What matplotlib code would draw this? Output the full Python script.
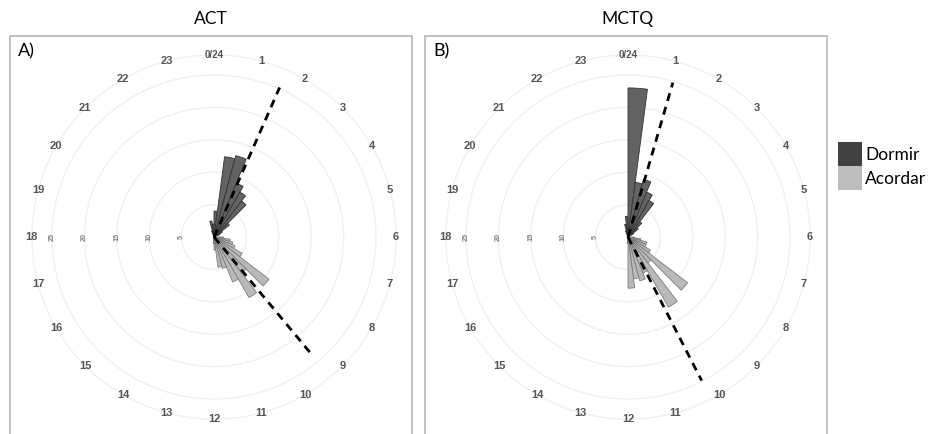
import numpy as np
import matplotlib
matplotlib.use("Agg")
import matplotlib.pyplot as plt
from matplotlib.patches import Rectangle

# ---------------- data (30-min bins, start hour -> frequency) ----------------
act_dormir_hours = [22.5, 23.0, 23.5, 0.0, 0.5, 1.0, 1.5, 2.0, 2.5, 3.0, 3.5, 4.0]
act_dormir_freq = [1.0, 2.5, 2.0, 4.0, 12.5, 13.0, 9.0, 8.0, 7.0, 3.0, 1.5, 1.0]
act_acordar_hours = [6.0, 6.5, 7.0, 7.5, 8.0, 8.5, 9.0, 9.5, 10.0, 10.5, 11.0, 11.5, 12.0]
act_acordar_freq = [1.5, 2.5, 3.0, 3.5, 5.0, 10.7, 7.0, 10.8, 7.5, 5.0, 4.7, 2.0, 1.0]

mctq_dormir_hours = [22.5, 23.0, 23.5, 0.0, 0.5, 1.0, 1.5, 2.0, 2.5, 3.0, 3.5]
mctq_dormir_freq = [1.0, 2.0, 3.2, 23.0, 8.5, 9.2, 7.5, 6.5, 3.0, 2.0, 1.0]
mctq_acordar_hours = [6.0, 6.5, 7.0, 7.5, 8.0, 8.5, 9.0, 9.5, 10.0, 10.5, 11.0, 11.5, 12.0]
mctq_acordar_freq = [1.0, 2.0, 3.0, 3.0, 4.0, 11.6, 5.0, 12.5, 6.0, 7.0, 6.5, 7.9, 1.0]

# mean directions (hour) and drawn lengths
act_means = [(1.58, 25.2), (9.35, 23.4)]
mctq_means = [(1.08, 24.8), (10.19, 24.9)]

ring_values = [5, 10, 15, 20, 25]
hour_ticks = list(range(24))
titles = ["ACT", "MCTQ"]
panel_tags = ["A)", "B)"]
legend_labels = ["Dormir", "Acordar"]

# ---------------- figure ----------------
W, H = 935, 434
fig = plt.figure(figsize=(W / 100, H / 100), dpi=100)

BIN = 0.5
UNIT_PX = 6.48
RMAX = 30
LABEL_R = 28.1
hr2rad = 2 * np.pi / 24

col_dormir = "#636363"
edge_dormir = "#333333"
col_acordar = "#b9b9b9"
edge_acordar = "#7c7c7c"


def panel(cx, cy, dh, df, ah, af, means):
    rpx = RMAX * UNIT_PX
    ax = fig.add_axes([(cx - rpx) / W, (H - cy - rpx) / H, 2 * rpx / W, 2 * rpx / H],
                      projection="polar")
    ax.set_theta_zero_location("N")
    ax.set_theta_direction(-1)
    ax.set_ylim(0, RMAX)
    ax.set_axis_off()

    th = np.linspace(0, 2 * np.pi, 400)
    for r in ring_values + [LABEL_R]:
        ax.plot(th, np.full_like(th, r), color="#f0f0f0", lw=1.0, zorder=0)

    for r in ring_values:
        ax.text(1.5 * np.pi, r, str(r), rotation=90, ha="center", va="center",
                fontsize=5.2, color="#808080", fontweight="bold",
                family="Liberation Sans", zorder=1)

    for h in hour_ticks:
        lab = "0/24" if h == 0 else str(h)
        ax.text(h * hr2rad, LABEL_R, lab, ha="center", va="center",
                fontsize=8 if h else 7, fontweight="bold", color="#555555",
                family="Liberation Sans", zorder=1)

    ax.bar([(h + BIN / 2) * hr2rad for h in ah], af, width=BIN * hr2rad,
           bottom=0, color=col_acordar, edgecolor=edge_acordar, lw=0.6, zorder=2)
    ax.bar([(h + BIN / 2) * hr2rad for h in dh], df, width=BIN * hr2rad,
           bottom=0, color=col_dormir, edgecolor=edge_dormir, lw=0.6, zorder=3)

    for h, L in means:
        ax.plot([h * hr2rad, h * hr2rad], [0, L], color="black", lw=2.0,
                linestyle=(0, (2.9, 2.2)), zorder=4)
    return ax


panel(214, 237, act_dormir_hours, act_dormir_freq, act_acordar_hours, act_acordar_freq, act_means)
panel(628, 237, mctq_dormir_hours, mctq_dormir_freq, mctq_acordar_hours, mctq_acordar_freq, mctq_means)

# frames, titles, tags
for x0, x1, title, tag, tx in [(10, 412, titles[0], panel_tags[0], 211),
                               (425, 827, titles[1], panel_tags[1], 627)]:
    fig.add_artist(Rectangle((x0 / W, -0.05), (x1 - x0) / W, (H - 36) / H + 0.05,
                             transform=fig.transFigure, fill=False,
                             edgecolor="#b5b5b5", lw=1.2))
    fig.text(tx / W, 1 - 19 / H, title, ha="center", va="center",
             fontsize=12.5, family="Lato")
    fig.text((x0 + 8) / W, 1 - 51 / H, tag, ha="left", va="center",
             fontsize=13, family="Lato")

# legend
for i, (lab, col) in enumerate(zip(legend_labels, ["#404040", "#bdbdbd"])):
    ytop = 142 + i * 24
    fig.add_artist(Rectangle((838 / W, 1 - (ytop + 24) / H), 24 / W, 24 / H,
                             transform=fig.transFigure, facecolor=col, edgecolor="none"))
    fig.text(865 / W, 1 - (ytop + 13) / H, lab, ha="left", va="center",
             fontsize=12.5, family="Lato")

fig.savefig("out.png", dpi=100)
